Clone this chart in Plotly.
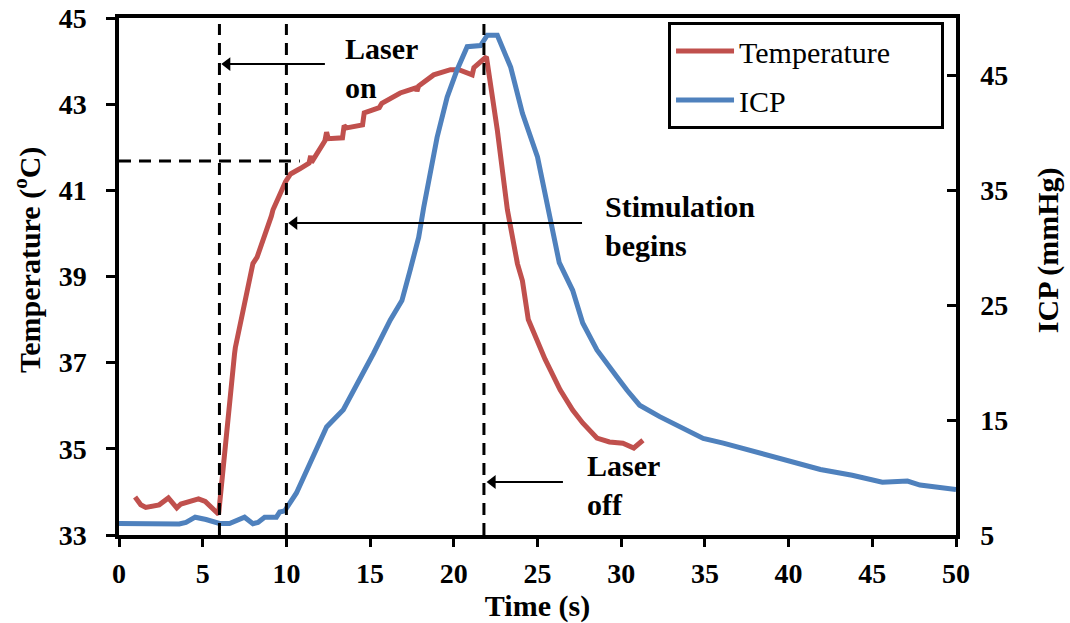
import plotly.graph_objects as go

# Temperature trace (s, degC)
time_temp = [0.96, 1.3, 1.6, 2.4, 2.95, 3.45, 3.7, 4.3, 4.75, 5.15, 5.6, 5.95,
             6.9, 6.95, 8.0, 8.25, 9.1, 9.2, 9.95, 10.25, 10.8, 11.35, 11.45, 11.5,
             12.3, 12.4, 12.5, 13.35, 13.45, 13.6, 14.55, 14.65, 15.55, 15.7, 16.8,
             17.75, 17.8, 17.9, 18.8, 19.8, 20.3, 21.1, 21.2, 21.95, 22.6, 23.2,
             23.8, 24.1, 24.45, 25.45, 26.35, 27.1, 27.7, 28.55, 29.3, 30.1, 30.75,
             31.05, 31.3]
temperature = [33.88, 33.7, 33.64, 33.7, 33.86, 33.63, 33.72, 33.8, 33.84, 33.78, 33.62, 33.48,
               37.2, 37.35, 39.3, 39.45, 40.4, 40.55, 41.2, 41.38, 41.5, 41.63, 41.8, 41.65,
               42.15, 42.35, 42.2, 42.22, 42.5, 42.45, 42.52, 42.8, 42.92, 43.02, 43.26,
               43.38, 43.3, 43.42, 43.68, 43.8, 43.8, 43.68, 43.85, 44.1, 42.4, 40.55,
               39.3, 38.9, 38.0, 37.08, 36.37, 35.9, 35.6, 35.25, 35.16, 35.13, 35.02,
               35.1, 35.2]

# Intracranial pressure trace (s, mmHg)
time_icp = [0.0, 3.6, 4.0, 4.55, 5.2, 6.0, 6.6, 7.0, 7.5, 8.0, 8.3, 8.7, 9.4, 9.6,
            9.9, 10.6, 11.4, 12.4, 13.4, 14.4, 15.2, 16.2, 16.9, 17.4, 17.9, 18.2,
            18.5, 19.0, 19.6, 20.2, 20.8, 21.6, 22.0, 22.6, 23.4, 24.1, 25.0, 25.7,
            26.3, 27.1, 27.7, 28.55, 29.15, 29.75, 30.35, 31.1, 32.3, 33.5, 34.1,
            34.9, 36.1, 37.1, 38.5, 39.9, 41.9, 43.8, 45.6, 47.1, 47.85, 50.0]
icp = [6.0, 5.96, 6.1, 6.55, 6.35, 6.0, 6.0, 6.25, 6.55, 5.98, 6.1, 6.55, 6.55, 7.0,
       7.1, 8.66, 11.2, 14.4, 15.9, 18.5, 20.8, 23.7, 25.4, 28.1, 30.9, 33.5,
       35.6, 39.6, 43.1, 45.5, 47.5, 47.6, 48.5, 48.5, 45.7, 41.7, 37.9, 32.7,
       28.7, 26.3, 23.45, 21.1, 20.0, 18.75, 17.6, 16.3, 15.3, 14.4, 13.9,
       13.4, 13.0, 12.6, 12.0, 11.5, 10.7, 10.2, 9.6, 9.7, 9.35, 8.95]

x_ticks = [0, 5, 10, 15, 20, 25, 30, 35, 40, 45, 50]
temp_ticks = [33, 35, 37, 39, 41, 43, 45]
icp_ticks = [5, 15, 25, 35, 45]

# Event markers (s) and the threshold temperature
event_times = [6.0, 10.0, 21.8]
event_top = 44.86
threshold_temp = 41.68
threshold_end = 10.8

# Event labels: text, text anchor (t, T), arrow tail (t, T), arrow tip (t, T)
event_labels = ["Laser<br>on", "Stimulation<br>begins", "Laser<br>off"]
label_pos = [(13.38, 43.85), (28.9, 40.17), (27.84, 34.16)]
arrow_tail = [(12.3, 43.93), (27.66, 40.24), (26.52, 34.23)]
arrow_tip = [(6.05, 43.93), (10.05, 40.24), (21.9, 34.23)]
head_len = 0.42  # arrowhead centre sits this far (s) behind the tip

RED = "#C0504D"
BLUE = "#4F81BD"
FONT = "'Liberation Serif', 'Times New Roman', Times, serif"
NB = "\u00a0"

fig = go.Figure()
fig.add_trace(go.Scatter(x=time_temp, y=temperature, name="Temperature" + NB * 6,
                         mode="lines", line=dict(color=RED, width=5), legendgroup="a"))
fig.add_trace(go.Scatter(x=time_icp, y=icp, name="ICP", mode="lines", yaxis="y2",
                         line=dict(color=BLUE, width=5), legendgroup="b"))

dash = "12px,8px"
for t in event_times:
    fig.add_shape(type="line", xref="x", yref="y", x0=t, x1=t, y0=33, y1=event_top,
                  line=dict(color="black", width=3, dash=dash))
fig.add_shape(type="line", xref="x", yref="y", x0=0, x1=threshold_end,
              y0=threshold_temp, y1=threshold_temp,
              line=dict(color="black", width=3, dash=dash))

# Arrow shafts
for (tx, ty), (hx, hy) in zip(arrow_tail, arrow_tip):
    fig.add_shape(type="line", xref="x", yref="y", x0=tx, x1=hx + head_len, y0=ty, y1=hy,
                  line=dict(color="black", width=2))
# Arrowheads
fig.add_trace(go.Scatter(x=[hx + head_len for hx, _ in arrow_tip],
                         y=[hy for _, hy in arrow_tip], mode="markers",
                         marker=dict(symbol="triangle-left", size=12, color="black"),
                         showlegend=False, hoverinfo="skip"))

for txt, (lx, ly) in zip(event_labels, label_pos):
    fig.add_annotation(x=lx, y=ly, xref="x", yref="y", text=f"<b>{txt}</b>",
                       showarrow=False, xanchor="left", yanchor="middle", align="left",
                       font=dict(family=FONT, size=30, color="black"))

# Vertical axis titles, placed slightly above the plot's mid-height
title_font = dict(family=FONT, size=30, color="black")
fig.add_annotation(x=-0.1087, y=0.532, xref="paper", yref="paper", textangle=-90,
                   text="<b>Temperature (<sup>o</sup>C)</b>", showarrow=False,
                   xanchor="center", yanchor="middle", font=title_font)
fig.add_annotation(x=1.11, y=0.551, xref="paper", yref="paper", textangle=-90,
                   text="<b>ICP (mmHg)</b>", showarrow=False,
                   xanchor="center", yanchor="middle", font=title_font)

axis_common = dict(showgrid=False, zeroline=False, linecolor="black", linewidth=3.5,
                   tickcolor="black", tickwidth=3, automargin=False,
                   tickfont=dict(family=FONT, size=28, color="black", weight="bold"),
                   title_font=dict(family=FONT, size=30, color="black", weight="bold"))

fig.update_layout(
    width=1070, height=623,
    margin=dict(l=119, r=114, t=18, b=88),
    paper_bgcolor="white", plot_bgcolor="white",
    font=dict(family=FONT, color="black"),
    xaxis=dict(range=[0, 50], tickvals=x_ticks, ticks="outside", ticklen=8,
               showline=True, mirror=True, title=dict(text="Time (s)", standoff=5),
               ticklabelstandoff=3, **axis_common),
    yaxis=dict(range=[33, 45], tickvals=temp_ticks, ticks="outside", ticklen=9,
               showline=True, ticklabelstandoff=14, **axis_common),
    yaxis2=dict(range=[5, 50], tickvals=icp_ticks, ticks="inside", ticklen=9,
                overlaying="y", side="right", showline=True,
                ticklabelstandoff=15, **axis_common),
    legend=dict(x=0.9857, y=0.9923, xanchor="right", yanchor="top",
                bgcolor="white", bordercolor="black", borderwidth=3,
                font=dict(family=FONT, size=30, color="black"),
                tracegroupgap=7, traceorder="grouped", itemwidth=58),
    showlegend=True,
)

fig.write_html("out.html")
